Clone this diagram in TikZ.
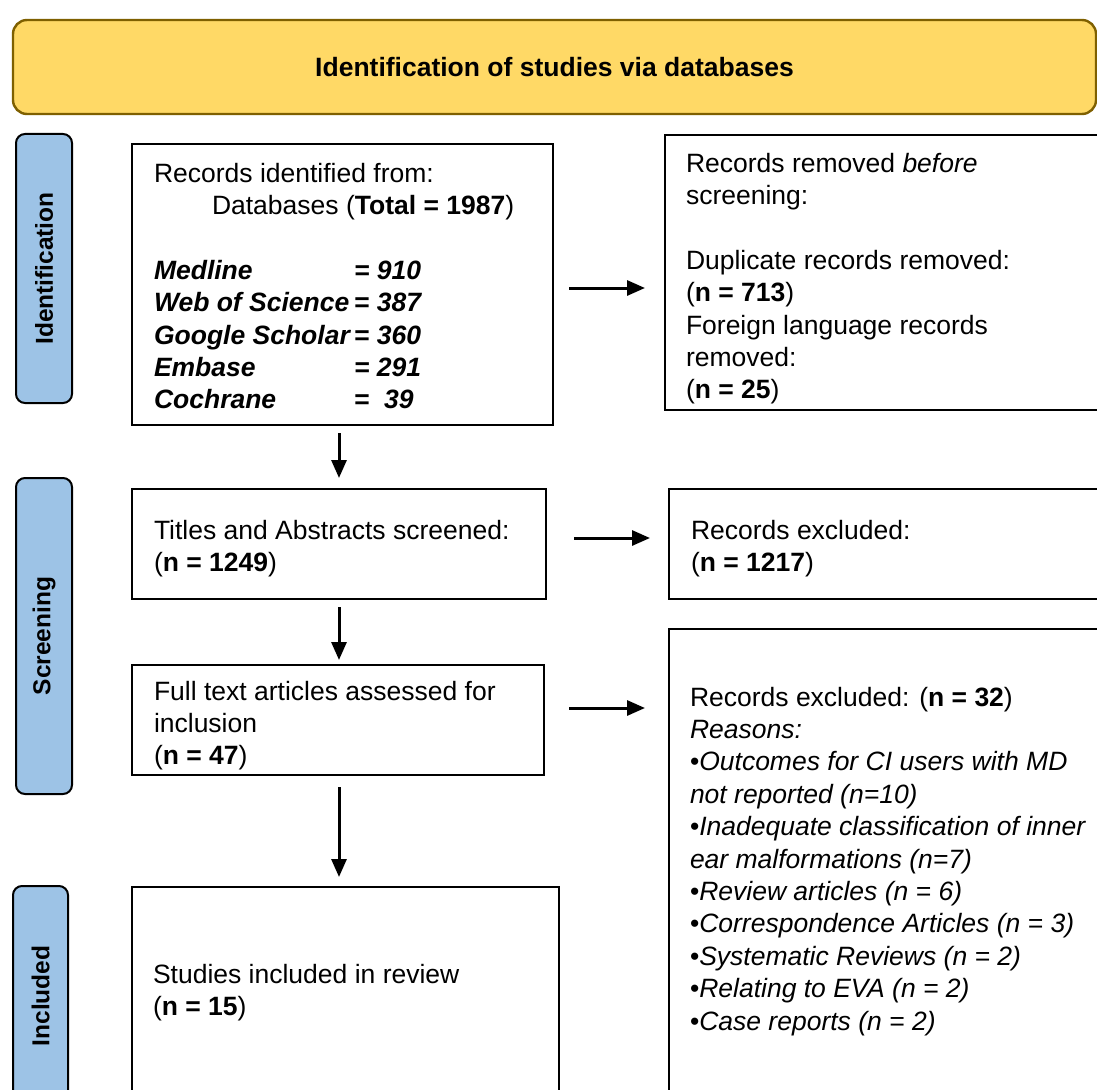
\documentclass[tikz,border=0pt]{standalone}
\usepackage{fontspec}
\setmainfont{Liberation Sans}
\usetikzlibrary{arrows.meta}
\definecolor{bannerfill}{HTML}{FFD966}
\definecolor{bannerdraw}{HTML}{7F6000}
\definecolor{labfill}{HTML}{9DC3E6}
\newcommand{\bodyfont}{\fontsize{26.5}{32.4}\selectfont}
\tikzset{
  box/.style={draw=black, line width=2pt, fill=white, anchor=north west, inner ysep=0pt, inner xsep=22pt},
  lab/.style={draw=black, line width=2pt, fill=labfill, rounded corners=9pt, rotate=90, inner sep=0pt,
              font=\fontsize{24.5}{28}\selectfont\bfseries},
  banner/.style={draw=bannerdraw, line width=2.4pt, fill=bannerfill, rounded corners=14pt, inner sep=0pt,
                 font=\fontsize{26.5}{32}\selectfont\bfseries},
  arr/.style={line width=3pt, -{Triangle[length=18pt,width=15pt]}}
}
\begin{document}
\begin{tikzpicture}[x=1pt,y=-1pt]
\useasboundingbox (0,0) rectangle (1097,1089);
\clip (0,0) rectangle (1097,1089);
\fill[white] (0,0) rectangle (1097,1089);

% banner
\node[banner, minimum width=1083pt, minimum height=94pt] (ban) at (554.5,67) {Identification of studies via databases};

% phase labels
\node[lab, minimum width=269pt, minimum height=56pt] (lid) at (44,268.5) {Identification};
\node[lab, minimum width=316pt, minimum height=56pt] (lsc) at (44,636) {Screening};
\node[lab, minimum width=220pt, minimum height=55pt] (lin) at (40.5,996) {Included};

% boxes
\node[box] (b1) at (131,143) {\parbox[t][281pt][t]{377pt}{\bodyfont
\rule{0pt}{38pt}Records identified from:\\
\hspace*{58pt}Databases (\textbf{Total = 1987})\\[32.4pt]
\textbf{\textit{\makebox[200pt][l]{Medline}= 910}}\\
\textbf{\textit{\makebox[200pt][l]{Web of Science}= 387}}\\
\textbf{\textit{\makebox[200pt][l]{Google Scholar}= 360}}\\
\textbf{\textit{\makebox[200pt][l]{Embase}= 291}}\\
\textbf{\textit{\makebox[200pt][l]{Cochrane}=\ \ 39}}}};

\node[box, inner xsep=21pt] (b2) at (664,134) {\parbox[t][275pt][t]{420pt}{\bodyfont
\rule{0pt}{37pt}Records removed \textit{before}\\
screening:\\[32.4pt]
Duplicate records removed:\\
(\textbf{n = 713})\\
Foreign language records\\
removed:\\
(\textbf{n = 25})}};

\node[box] (b3) at (131,488) {\parbox[t][110pt][t]{370pt}{\bodyfont
\rule{0pt}{50pt}Titles and Abstracts screened:\\
(\textbf{n = 1249})}};

\node[box] (b4) at (668,488) {\parbox[t][110pt][t]{420pt}{\bodyfont
\rule{0pt}{50pt}Records excluded:\\
(\textbf{n = 1217})}};

\node[box] (b5) at (131,664) {\parbox[t][110pt][t]{368pt}{\bodyfont
\rule{0pt}{35pt}Full text articles assessed for\\
inclusion\\
(\textbf{n = 47})}};

\node[box, inner xsep=21pt] (b6) at (668,628) {\parbox[t][480pt][t]{420pt}{\bodyfont
\rule{0pt}{77pt}Records excluded: (\textbf{n = 32})\\
\textit{Reasons:}\\
•\textit{Outcomes for CI users with MD}\\
\textit{not reported (n=10)}\\
•\textit{Inadequate classification of inner}\\
\textit{ear malformations (n=7)}\\
•\textit{Review articles (n = 6)}\\
•\textit{Correspondence Articles (n = 3)}\\
•\textit{Systematic Reviews (n = 2)}\\
•\textit{Relating to EVA (n = 2)}\\
•\textit{Case reports (n = 2)}}};

\node[box, inner xsep=21pt] (b7) at (131,886) {\parbox[t][220pt][t]{385pt}{\bodyfont
\rule{0pt}{96pt}Studies included in review\\
(\textbf{n = 15})}};

% connectors
\coordinate (r1) at (0,288);
\coordinate (r2) at (0,538);
\coordinate (r3) at (0,708);
\draw[arr, shorten <=15pt, shorten >=19pt] (b1.east |- r1) -- (b2.west |- r1);
\draw[arr, shorten <=27pt, shorten >=18pt] (b3.east |- r2) -- (b4.west |- r2);
\draw[arr, shorten <=24pt, shorten >=23pt] (b5.east |- r3) -- (b6.west |- r3);
\draw[arr, shorten <=7pt, shorten >=10pt] (b3.north |- b1.south) -- (b3.north);
\draw[arr, shorten <=7pt, shorten >=4pt] (b3.south) -- (b3.south |- b5.north);
\draw[arr, shorten <=11pt, shorten >=9pt] (b3.south |- b5.south) -- (b3.south |- b7.north);
\end{tikzpicture}
\end{document}
